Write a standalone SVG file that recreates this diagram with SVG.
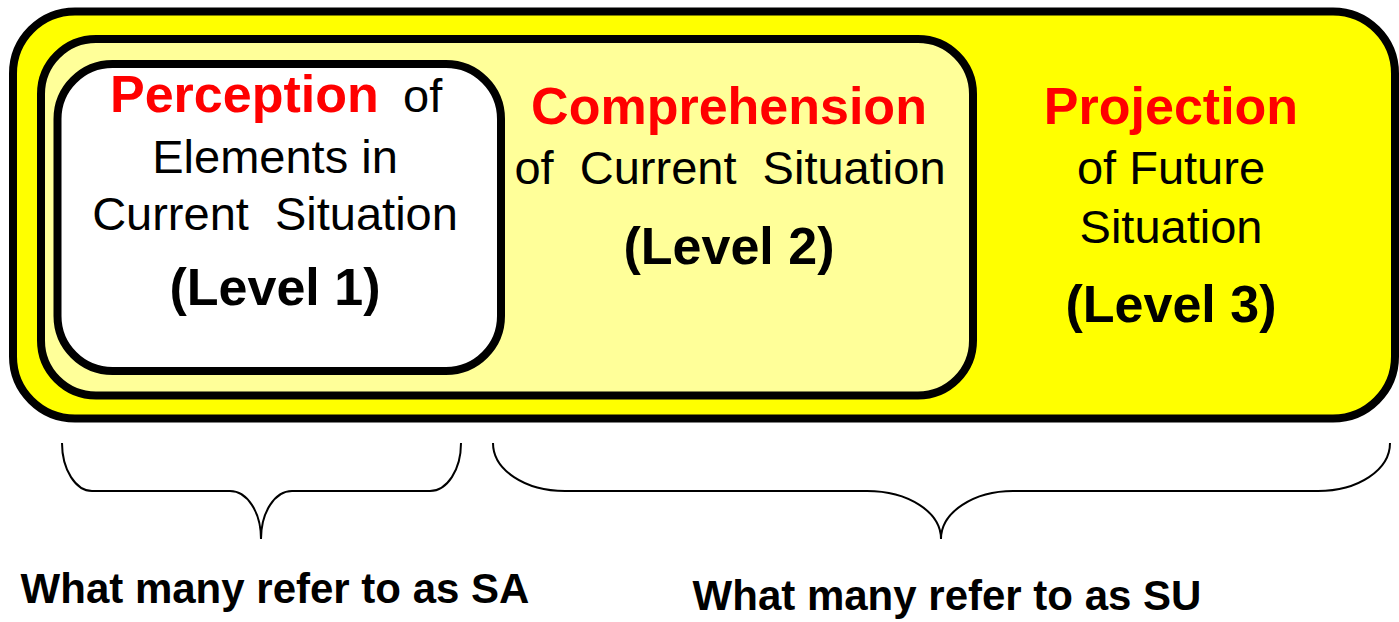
<svg xmlns="http://www.w3.org/2000/svg" width="1399" height="622" viewBox="0 0 1399 622">
<style>
.box{stroke:#000;stroke-width:8}
.t{font-family:"Liberation Sans",Arial,sans-serif;text-anchor:middle;white-space:pre}
.red{font-weight:bold;font-size:52px;fill:#FF0000}
.reg{font-size:47px;fill:#000}
.lvl{font-weight:bold;font-size:52px;fill:#000}
.lab{font-weight:bold;font-size:42px;fill:#000}
.brace{fill:none;stroke:#000;stroke-width:2}
</style>
<rect width="1399" height="622" fill="#fff"/>
<g id="level3">
<rect class="box" x="13" y="11.5" width="1382" height="407" rx="62" fill="#FFFF00" stroke-width="7.5"/>
<text class="t red" x="1171" y="124">Projection</text>
<text class="t reg" x="1171" y="184">of Future</text>
<text class="t reg" x="1171" y="243">Situation</text>
<text class="t lvl" x="1171" y="322">(Level 3)</text>
</g>
<g id="level2">
<rect class="box" x="41" y="39" width="932" height="356.5" rx="55" fill="#FFFF99"/>
<text class="t red" x="729" y="124">Comprehension</text>
<text class="t reg" x="730" y="184">of  Current  Situation</text>
<text class="t lvl" x="729" y="264">(Level 2)</text>
</g>
<g id="level1">
<rect class="box" x="57.5" y="64" width="443.5" height="307" rx="55" fill="#FFFFFF"/>
<text class="t" x="275" y="112" style="text-anchor:start"><tspan class="red" x="110">Perception</tspan><tspan class="reg" x="403">of</tspan></text>
<text class="t reg" x="275" y="173">Elements in</text>
<text class="t reg" x="275" y="230">Current  Situation</text>
<text class="t lvl" x="275" y="305">(Level 1)</text>
</g>
<g id="connectors">
<path class="brace" d="M62,443 C62,470 76,491 92,491 L230,491 C247,491 261,512 261,539 C261,512 275,491 292,491 L430,491 C447,491 461,470 461,443"/>
<path class="brace" d="M493,443 C493,470 525,491 565,491 L867,491 C908,491 941,512 941,539 C941,512 974,491 1013,491 L1318,491 C1358,491 1390,470 1390,443"/>
</g>
<g id="labelSA">
<text class="t lab" x="275" y="603">What many refer to as SA</text>
</g>
<g id="labelSU">
<text class="t lab" x="947" y="610">What many refer to as SU</text>
</g>
</svg>
